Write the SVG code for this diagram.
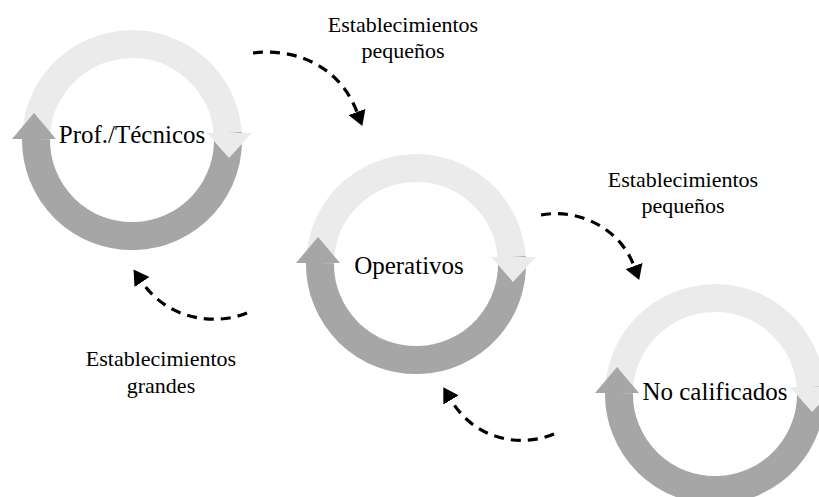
<svg xmlns="http://www.w3.org/2000/svg" width="819" height="497" viewBox="0 0 819 497">
  <style>
    .light { fill: none; stroke: #ebebeb; stroke-width: 28; }
    .dark { fill: none; stroke: #a6a6a6; stroke-width: 28; }
    .light-head { fill: #ebebeb; }
    .dark-head { fill: #a6a6a6; }
    .node-label { font-family: "Liberation Serif", "Times New Roman", serif; font-size: 25px; fill: #000; text-anchor: middle; }
    .edge-label { font-family: "Liberation Serif", "Times New Roman", serif; font-size: 22px; fill: #000; text-anchor: middle; }
    .flow { fill: none; stroke: #000; stroke-width: 3.2; stroke-dasharray: 10 7; marker-end: url(#head); }
  </style>
  <defs>
    <!-- two-tone circular cycle, centred on the origin -->
    <g id="cycle">
      <path class="light" d="M -95.99 -1 A 96 96 0 0 1 95.74 -7"/>
      <path class="dark" d="M 95.74 -7 A 96 96 0 1 1 -95.99 -1"/>
      <polygon class="light-head" points="75,-7 120,-7 97,18"/>
      <polygon class="dark-head" points="-120,-1 -76,-1 -98,-27"/>
    </g>
    <marker id="head" markerUnits="userSpaceOnUse" markerWidth="16" markerHeight="18" viewBox="0 0 16 18" refX="0" refY="9" orient="auto">
      <path d="M0,0 L15,9 L0,18 Z" fill="#000"/>
    </marker>
  </defs>

  <g id="node-prof-tecnicos">
    <use href="#cycle" x="132" y="140"/>
    <text class="node-label" x="132" y="143">Prof./Técnicos</text>
  </g>

  <g id="node-operativos">
    <use href="#cycle" x="416" y="264"/>
    <text class="node-label" x="409" y="274">Operativos</text>
  </g>

  <g id="node-no-calificados">
    <use href="#cycle" x="715" y="394"/>
    <text class="node-label" x="715" y="400">No calificados</text>
  </g>

  <g id="connectors">
    <path class="flow" d="M 253 53 C 290 48 338 62 357 112"/>
    <path class="flow" d="M 541 215 C 578 208 620 228 634 266"/>
    <path class="flow" d="M 247 313 C 215 326 168 320 142 282"/>
    <path class="flow" d="M 554 434 C 520 448 475 440 451 400"/>
  </g>

  <g id="labels">
    <text class="edge-label" x="403" y="32">Establecimientos</text>
    <text class="edge-label" x="403" y="58">pequeños</text>
    <text class="edge-label" x="683" y="187">Establecimientos</text>
    <text class="edge-label" x="683" y="213">pequeños</text>
    <text class="edge-label" x="161" y="366">Establecimientos</text>
    <text class="edge-label" x="161" y="393">grandes</text>
  </g>
</svg>
